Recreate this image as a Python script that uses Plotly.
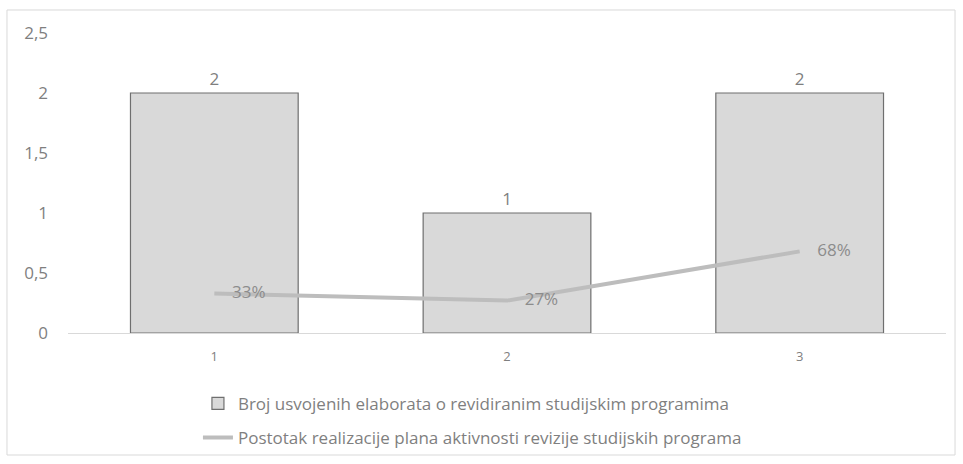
import plotly.graph_objects as go

categories = ["1", "2", "3"]
bar_values = [2, 1, 2]
line_values = [0.33, 0.27, 0.68]
bar_name = "Broj usvojenih elaborata o revidiranim studijskim programima"
line_name = "Postotak realizacije plana aktivnosti revizije studijskih programa"
y_tickvals = [0, 0.5, 1, 1.5, 2, 2.5]
y_ticktext = ["0", "0,5", "1", "1,5", "2", "2,5"]

FONT = "Open Sans"
GRAY = "#7f7f7f"
FS = 17

fig = go.Figure()
fig.add_trace(go.Bar(
    x=categories, y=bar_values, name=bar_name,
    marker=dict(color="#d9d9d9", line=dict(color="#6f6f6f", width=1.2)),
    width=0.573,
    text=[str(v) for v in bar_values], textposition="outside",
    textfont=dict(family=FONT, size=FS, color=GRAY),
    cliponaxis=False, legendgroup="a",
))
fig.add_trace(go.Scatter(
    x=categories, y=line_values, name=line_name, mode="lines+text",
    line=dict(color="#bdbdbd", width=4),
    text=["\u00a0\u00a0\u00a0\u00a0" + f"{round(v*100)}%" for v in line_values],
    textposition="middle right",
    textfont=dict(family=FONT, size=FS, color="#8c8c8c"),
    cliponaxis=False, legendgroup="b",
))

fig.update_layout(
    width=963, height=464,
    margin=dict(l=68, r=17, t=33, b=131, autoexpand=False),
    paper_bgcolor="white", plot_bgcolor="white",
    font=dict(family=FONT, color=GRAY),
    separators=", ",
    showlegend=True,
    legend=dict(orientation="v", x=0.148, xanchor="left", y=-0.176, yanchor="top",
                font=dict(family=FONT, size=FS, color=GRAY),
                traceorder="grouped", tracegroupgap=9, bgcolor="rgba(0,0,0,0)"),
    xaxis=dict(type="category", showgrid=False, showline=True, linecolor="#d9d9d9",
               linewidth=1, ticks="", tickfont=dict(family=FONT, size=13, color=GRAY),
               ticklabelstandoff=11, zeroline=False),
    yaxis=dict(range=[0, 2.5], tickvals=y_tickvals, ticktext=y_ticktext, showgrid=False,
               zeroline=False, showline=False, ticks="",
               tickfont=dict(family=FONT, size=FS, color=GRAY), ticklabelstandoff=19),
    shapes=[dict(type="rect", xref="paper", yref="paper",
                 x0=-0.0695, x1=1.0103, y0=-0.4067, y1=1.0767,
                 line=dict(color="#d9d9d9", width=1), fillcolor="rgba(0,0,0,0)", layer="below")],
)

fig.write_html("out.html")
